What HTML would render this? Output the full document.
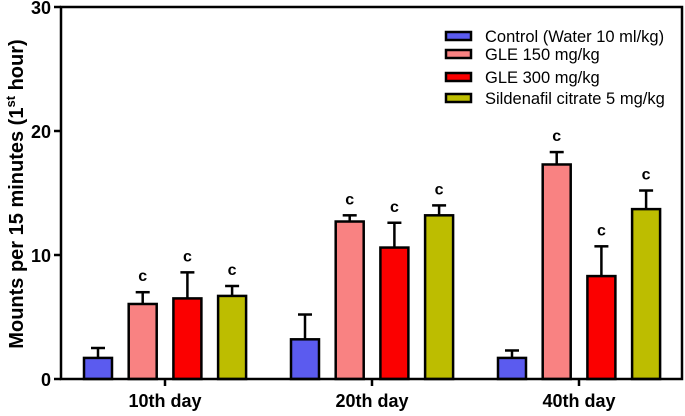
<!DOCTYPE html>
<html><head><meta charset="utf-8"><style>
body{margin:0;background:#fff}
svg text{font-family:"Liberation Sans",Arial,sans-serif}
</style></head><body>
<svg id="chart" width="685" height="411" viewBox="0 0 685 411" xmlns="http://www.w3.org/2000/svg">
<g id="marks"></g>
<g id="axes"></g>
</svg>
<script>
const categories = ["10th day","20th day","40th day"];
const seriesNames = ["Control (Water 10 ml/kg)","GLE 150 mg/kg","GLE 300 mg/kg","Sildenafil citrate 5 mg/kg"];
const control = [1.7, 3.2, 1.7];
const gle150 = [6.05, 12.7, 17.3];
const gle300 = [6.5, 10.6, 8.3];
const sildenafil = [6.7, 13.2, 13.7];
const controlErr = [0.8, 2.0, 0.6];
const gle150Err = [0.95, 0.5, 1.0];
const gle300Err = [2.1, 2.0, 2.4];
const sildenafilErr = [0.8, 0.8, 1.5];
const letters = [["","c","c","c"],["","c","c","c"],["","c","c","c"]];
const yTicks = [0,10,20,30];

const colors = ["#5b5bef","#f98282","#fb0000","#bdbd00"];
const series = [control,gle150,gle300,sildenafil];
const errs = [controlErr,gle150Err,gle300Err,sildenafilErr];
const NS="http://www.w3.org/2000/svg";
const x0=61, x1=682, yBase=379, yTop=7;
const y = v => yBase - (v/30)*(yBase-yTop);
const groupCenter = i => 165 + i*207;
const barX = (i,s) => groupCenter(i) - 81 + s*44.7;
const bw = 28;
const marks=document.getElementById('marks');
const axes=document.getElementById('axes');
function mk(tag,attrs,parent){const e=document.createElementNS(NS,tag);for(const k in attrs)e.setAttribute(k,attrs[k]);parent.appendChild(e);return e;}

categories.forEach((c,i)=>{
  series.forEach((arr,s)=>{
    const bx=barX(i,s), top=y(arr[i]), et=y(arr[i]+errs[s][i]), cx=bx+bw/2;
    const ln=mk('line',{x1:cx,x2:cx,y1:top,y2:et,stroke:'#000','stroke-width':2.5},marks);
    
    
    const cap=mk('line',{x1:cx-7,x2:cx+7,y1:et,y2:et,stroke:'#000','stroke-width':2.5},marks);
    
    
    const r=mk('rect',{x:bx,y:top,width:bw,height:yBase-top,fill:colors[s],stroke:'#000','stroke-width':2.5},marks);
    
    
    if(letters[i][s]){
      const t=mk('text',{x:cx,y:et-11,'text-anchor':'middle','font-size':16,'font-weight':'bold'},marks);
      t.textContent=letters[i][s];
      
      
    }
  });
  const tk=mk('line',{x1:groupCenter(i),x2:groupCenter(i),y1:yBase,y2:yBase+7,stroke:'#000','stroke-width':2.5},axes);
  
  
  const lb=mk('text',{x:groupCenter(i),y:407,'text-anchor':'middle','font-size':18,'font-weight':'bold'},axes);
  lb.textContent=c;
  
  
});
const frame=mk('path',{d:`M${x0} ${yTop} H${x1} V${yBase} H${x0} Z`,fill:'none',stroke:'#000','stroke-width':2.5},axes);


yTicks.forEach(v=>{
  const t=mk('line',{x1:x0-7,x2:x0,y1:y(v),y2:y(v),stroke:'#000','stroke-width':2.5},axes);
  
  
  const l=mk('text',{x:x0-10,y:y(v)+7,'text-anchor':'end','font-size':18,'font-weight':'bold'},axes);
  l.textContent=v;
  
  
});
const yt=mk('text',{transform:'translate(23,194) rotate(-90)','text-anchor':'middle','font-size':20,'font-weight':'bold'},axes);
yt.innerHTML='Mounts per 15 minutes (1<tspan dy="-8" font-size="13">st</tspan><tspan dy="8"> hour)</tspan>';


const legY=[36,54,77,98];
seriesNames.forEach((n,s)=>{
  const r=mk('rect',{x:446,y:legY[s]-4,width:25,height:8,fill:colors[s],stroke:'#000','stroke-width':2.5},axes);
  
  
  const t=mk('text',{x:485,y:legY[s]+6,'font-size':16.5},axes);
  t.textContent=n;
  
  
});
</script>
</body></html>
